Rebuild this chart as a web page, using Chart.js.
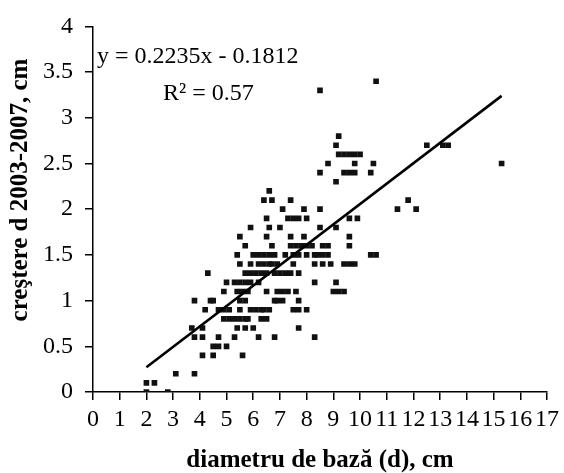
<!DOCTYPE html>
<html><head><meta charset="utf-8">
<script src="https://cdn.jsdelivr.net/npm/chart.js@4"></script>
<style>html,body{margin:0;padding:0;background:#fff;}canvas{display:block;}</style>
</head><body>
<canvas id="c" width="564" height="473"></canvas>
<script>
// Data: diameter (x) and growth (y), grouped by growth level
const diameters = [
  2.0, 2.8,
  2.0, 2.3,
  3.1, 3.8,
  4.1, 4.5, 5.6,
  4.5, 4.7, 5.0,
  3.8, 4.1, 4.7, 5.3, 6.2, 6.8, 8.3,
  3.7, 4.1, 5.4, 5.7, 6.0, 7.7,
  4.9, 5.1, 5.3, 5.5, 5.7, 5.8, 6.3, 6.5,
  4.2, 4.7, 4.9, 5.1, 5.5, 5.9, 6.1, 6.3, 6.4, 6.6, 7.5, 7.7, 8.0,
  3.8, 4.4, 4.5, 5.5, 5.7, 6.8, 6.9, 7.1, 7.7,
  4.9, 5.4, 5.6, 5.8, 6.5, 6.9, 7.1, 7.3, 7.6, 9.0, 9.2, 9.4,
  5.0, 5.3, 5.5, 5.7, 5.9, 6.2, 8.3, 9.1,
  4.3, 5.7, 5.9, 6.1, 6.3, 6.5, 6.8, 7.0, 7.2, 7.4, 7.7,
  5.5, 5.9, 6.2, 6.4, 6.6, 6.7, 6.9, 7.5, 8.3, 8.6, 8.9, 9.4, 9.6, 9.8,
  5.4, 6.0, 6.2, 6.4, 6.6, 6.8, 7.2, 7.5, 7.7, 8.0, 8.3, 8.4, 8.6, 8.8, 10.4, 10.6,
  5.7, 6.7, 7.4, 7.6, 7.8, 8.0, 8.2, 8.6, 8.8, 9.6,
  5.5, 6.5, 7.4, 7.9, 9.6,
  5.9, 6.6, 7.0, 8.5, 9.1,
  6.5, 7.3, 7.5, 7.7, 8.0, 9.6, 9.9,
  7.1, 7.9, 8.5, 11.4, 12.1,
  6.4, 6.7, 7.4, 11.8,
  6.6,
  9.1,
  8.5, 9.4, 9.6, 9.8, 10.4,
  8.8, 9.8, 10.5, 15.3,
  9.2, 9.4, 9.6, 9.8, 10.0,
  9.1, 12.5, 13.1, 13.3,
  9.2,
  8.5,
  10.6
];
const growth = [
  0.0, 0.0,
  0.1, 0.1,
  0.2, 0.2,
  0.4, 0.4, 0.4,
  0.5, 0.5, 0.5,
  0.6, 0.6, 0.6, 0.6, 0.6, 0.6, 0.6,
  0.7, 0.7, 0.7, 0.7, 0.7, 0.7,
  0.8, 0.8, 0.8, 0.8, 0.8, 0.8, 0.8, 0.8,
  0.9, 0.9, 0.9, 0.9, 0.9, 0.9, 0.9, 0.9, 0.9, 0.9, 0.9, 0.9, 0.9,
  1.0, 1.0, 1.0, 1.0, 1.0, 1.0, 1.0, 1.0, 1.0,
  1.1, 1.1, 1.1, 1.1, 1.1, 1.1, 1.1, 1.1, 1.1, 1.1, 1.1, 1.1,
  1.2, 1.2, 1.2, 1.2, 1.2, 1.2, 1.2, 1.2,
  1.3, 1.3, 1.3, 1.3, 1.3, 1.3, 1.3, 1.3, 1.3, 1.3, 1.3,
  1.4, 1.4, 1.4, 1.4, 1.4, 1.4, 1.4, 1.4, 1.4, 1.4, 1.4, 1.4, 1.4, 1.4,
  1.5, 1.5, 1.5, 1.5, 1.5, 1.5, 1.5, 1.5, 1.5, 1.5, 1.5, 1.5, 1.5, 1.5, 1.5, 1.5,
  1.6, 1.6, 1.6, 1.6, 1.6, 1.6, 1.6, 1.6, 1.6, 1.6,
  1.7, 1.7, 1.7, 1.7, 1.7,
  1.8, 1.8, 1.8, 1.8, 1.8,
  1.9, 1.9, 1.9, 1.9, 1.9, 1.9, 1.9,
  2.0, 2.0, 2.0, 2.0, 2.0,
  2.1, 2.1, 2.1, 2.1,
  2.2,
  2.3,
  2.4, 2.4, 2.4, 2.4, 2.4,
  2.5, 2.5, 2.5, 2.5,
  2.6, 2.6, 2.6, 2.6, 2.6,
  2.7, 2.7, 2.7, 2.7,
  2.8,
  3.3,
  3.4
];
// Trend line end points
const trendX = [2.0, 15.3];
const trendY = [0.27, 3.24];
// Tick labels
const xTicks = [0,1,2,3,4,5,6,7,8,9,10,11,12,13,14,15,16,17];
const yTicks = [0,0.5,1,1.5,2,2.5,3,3.5,4];
// Texts
const equationText = 'y = 0.2235x - 0.1812';
const r2Text = 'R\u00B2 = 0.57';
const xTitle = 'diametru de baz\u0103 (d), cm';
const yTitle = 'cre\u015Ftere d 2003-2007, cm';

const points = diameters.map((d, i) => ({ x: d, y: growth[i] }));
const trend = trendX.map((d, i) => ({ x: d, y: trendY[i] }));

const FONT = '"Liberation Serif", "Times New Roman", serif';

const annot = {
  id: 'annot',
  beforeDraw(chart) {
    const c = chart.ctx; c.save(); c.fillStyle = '#fff';
    c.fillRect(0, 0, chart.width, chart.height); c.restore();
  },
  afterDraw(chart) {
    const c = chart.ctx; c.save();
    c.fillStyle = '#000';
    c.font = '24px ' + FONT;
    c.textBaseline = 'alphabetic';
    c.textAlign = 'left';
    c.fillText(equationText, 97, 63);
    c.fillText(r2Text, 163, 100);
    // rotated y-axis title
    c.translate(21, 190);
    c.rotate(-Math.PI / 2);
    c.font = 'bold 25px ' + FONT;
    c.textAlign = 'center';
    c.textBaseline = 'middle';
    c.fillText(yTitle, 0, 0);
    c.restore();
  }
};

new Chart(document.getElementById('c'), {
  type: 'scatter',
  data: {
    datasets: [
      {
        type: 'line', data: trend, borderColor: '#000', borderWidth: 2.6,
        pointRadius: 0, fill: false, showLine: true, order: 1
      },
      {
        data: points, pointStyle: 'rect', pointRadius: 4,
        backgroundColor: '#111', borderColor: '#111', borderWidth: 0, order: 2
      }
    ]
  },
  plugins: [annot],
  options: {
    responsive: false, animation: false, devicePixelRatio: 1,
    layout: { padding: { top: 22, right: 10, left: 0, bottom: 0 } },
    plugins: { legend: { display: false }, tooltip: { enabled: false } },
    scales: {
      x: {
        type: 'linear', min: 0, max: 17,
        afterBuildTicks: s => { s.ticks = xTicks.map(v => ({ value: v })); },
        afterFit: s => { s.height = 81; },
        ticks: { autoSkip: false, maxRotation: 0, minRotation: 0, padding: 5,
                 color: '#000', font: { family: FONT, size: 24 },
                 callback: v => String(v) },
        grid: { drawOnChartArea: false, drawTicks: true, tickLength: 8, color: '#000', lineWidth: 1.5 },
        border: { display: true, color: '#000', width: 1.5 },
        title: { display: true, text: xTitle, color: '#000',
                 font: { family: FONT, size: 25, weight: 'bold', lineHeight: 1 },
                 padding: { top: 0, bottom: 0 } }
      },
      y: {
        type: 'linear', min: 0, max: 4,
        afterBuildTicks: s => { s.ticks = yTicks.map(v => ({ value: v })); },
        afterFit: s => { s.width = 93; },
        ticks: { padding: 12, color: '#000', font: { family: FONT, size: 24 },
                 callback: v => String(v) },
        grid: { drawOnChartArea: false, drawTicks: true, tickLength: 8, color: '#000', lineWidth: 1.5 },
        border: { display: true, color: '#000', width: 1.5 },
        title: { display: false }
      }
    }
  }
});
</script>
</body></html>
